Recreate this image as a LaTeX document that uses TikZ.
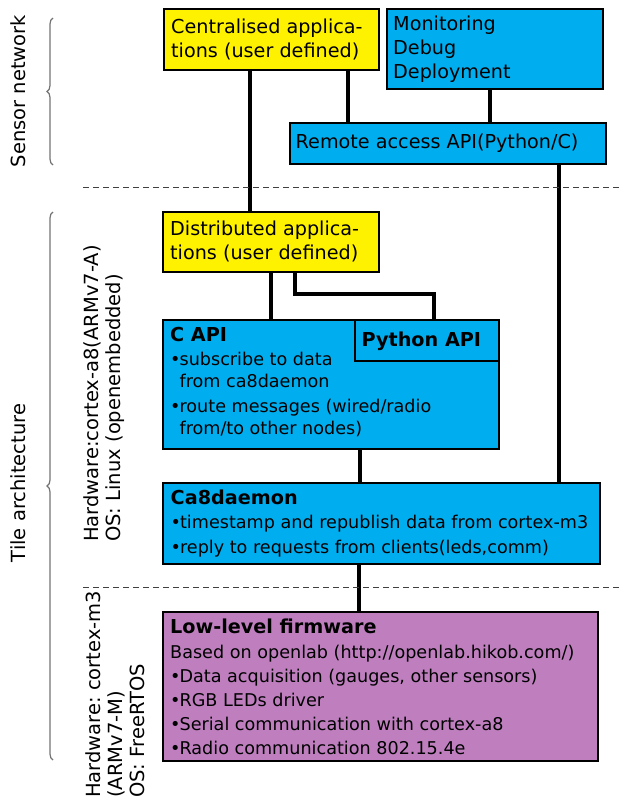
\documentclass[tikz,border=0pt]{standalone}
\usepackage{fontspec}
\setmainfont{DejaVu Sans}
\usetikzlibrary{calc,backgrounds,decorations.pathreplacing}
\definecolor{ylw}{RGB}{255,242,0}
\definecolor{blu}{RGB}{0,174,239}
\definecolor{prp}{RGB}{191,127,191}
\newcommand\mybul{•\kern-1pt}
\frenchspacing
\begin{document}
\frenchspacing
\begin{tikzpicture}[x=1pt,y=-1pt,
  box/.style={draw=black, line width=2.5pt, rectangle, inner sep=0pt, outer sep=0pt, anchor=north west},
  txt/.style={inner sep=0pt, anchor=north west, align=left, font=\fontsize{19.2pt}{24pt}\selectfont},
  body/.style={inner sep=0pt, anchor=north west, align=left},
  conn/.style={line width=4pt, draw=black},
  sepline/.style={line width=1pt, draw=black!75, dash pattern=on 6pt off 4pt},
  brc/.style={draw=black!55, line width=1.2pt, decorate, decoration={brace, amplitude=6pt}},
  lbl/.style={inner sep=0pt, rotate=90, font=\fontsize{19.5pt}{22pt}\selectfont}]

\useasboundingbox (0,0) rectangle (621,800);

% boxes
\node[box, fill=ylw, minimum width=215pt, minimum height=61pt] (cent) at (164,9) {};
\node[box, fill=blu, minimum width=216pt, minimum height=80pt] (mon) at (387,9) {};
\node[box, fill=blu, minimum width=316pt, minimum height=41pt] (remote) at (290,123) {};
\node[box, fill=ylw, minimum width=216pt, minimum height=60pt] (dist) at (163,212) {};
\node[box, fill=blu, minimum width=336pt, minimum height=129pt] (capi) at (163,320) {};
\node[box, fill=blu, minimum width=144pt, minimum height=41pt] (pyapi) at (355,320) {};
\node[box, fill=blu, minimum width=437pt, minimum height=81pt] (daemon) at (163,483) {};
\node[box, fill=prp, minimum width=435pt, minimum height=149pt] (fw) at (163,612) {};

% texts
\node[txt] (cent-t) at ($(cent.north west)+(7,9.4)$) {Centralised applica-\\tions (user defined)};
\node[txt] (mon-t) at ($(mon.north west)+(6,6.4)$) {Monitoring\\Debug\\Deployment};
\node[txt] (remote-t) at ($(remote.north west)+(5.5,10.4)$) {Remote access API(Python/C)};
\node[txt] (dist-t) at ($(dist.north west)+(7,8.4)$) {Distributed applica-\\tions (user defined)};
\node[body, font=\fontsize{17.6pt}{22pt}\selectfont] (capi-t) at ($(capi.north west)+(7,7)$)
  {{\fontsize{19.2pt}{22pt}\bfseries C API}\\[2pt]
   \mybul subscribe to data\\
   \hphantom{\mybul}from ca8daemon\\[3pt]
   \mybul route messages (wired/radio\\
   \hphantom{\mybul}from/to other nodes)};
\node[txt] (pyapi-t) at ($(pyapi.north west)+(6.5,11.4)$) {\bfseries Python API};
\node[body, font=\fontsize{17.6pt}{24.5pt}\selectfont] (daemon-t) at ($(daemon.north west)+(7.5,6.4)$)
  {{\fontsize{19.2pt}{24.5pt}\bfseries Ca8daemon}\\
   \mybul timestamp and republish data from cortex-m3\\
   \mybul reply to requests from clients(leds,comm)};
\node[body, font=\fontsize{17.6pt}{24pt}\selectfont] (fw-t) at ($(fw.north west)+(7,6.4)$)
  {{\fontsize{19.2pt}{24pt}\bfseries Low-level firmware}\\[1.5pt]
   Based on openlab (http://openlab.hikob.com/)\\
   \mybul Data acquisition (gauges, other sensors)\\
   \mybul RGB LEDs driver\\
   \mybul Serial communication with cortex-a8\\
   \mybul Radio communication 802.15.4e};

% connectors
\begin{scope}[on background layer]
  \coordinate (a1) at ($(cent.south west)+(86,0)$);
  \draw[conn] (a1) -- (a1 |- dist.north);
  \coordinate (a2) at ($(cent.south west)+(184,0)$);
  \draw[conn] (a2) -- (a2 |- remote.north);
  \coordinate (a3) at ($(mon.south west)+(103,0)$);
  \draw[conn] (a3) -- (a3 |- remote.north);
  \coordinate (a4) at ($(remote.south west)+(269,0)$);
  \draw[conn] (a4) -- (a4 |- daemon.north);
  \coordinate (a5) at ($(dist.south west)+(108,0)$);
  \draw[conn] (a5) -- (a5 |- capi.north);
  \coordinate (a6) at ($(dist.south west)+(132,0)$);
  \coordinate (a7) at ($(pyapi.north west)+(79,0)$);
  \draw[conn] (a6) |- ($(a7)+(0,-26)$) -- (a7);
  \coordinate (a8) at ($(capi.south west)+(197,0)$);
  \draw[conn] (a8) -- (a8 |- daemon.north);
  \coordinate (a9) at ($(daemon.south west)+(196,0)$);
  \draw[conn] (a9) -- (a9 |- fw.north);
\end{scope}

% separators
\coordinate (s1a) at (83,187);
\coordinate (s1b) at (621,187);
\draw[sepline] (s1a) -- (s1b);
\coordinate (s2a) at (83,587);
\coordinate (s2b) at (621,587);
\draw[sepline] (s2a) -- (s2b);

% braces
\coordinate (b1a) at (53,165);
\coordinate (b1b) at (53,18);
\draw[brc] (b1a) -- (b1b);
\coordinate (b2a) at (53,760);
\coordinate (b2b) at (53,212);
\draw[brc] (b2a) -- (b2b);

% side labels
\node[lbl, anchor=base] (sn) at (25,91) {Sensor network};
\node[lbl, anchor=base] (ta) at (25,483) {Tile architecture};
\node[lbl, anchor=north west, align=left] (hw1) at (83,542) {Hardware:cortex-a8(ARMv7-A)\\OS: Linux (openembedded)};
\node[lbl, anchor=north west, align=left] (hw2) at (85,798) {Hardware: cortex-m3\\(ARMv7-M)\\OS: FreeRTOS};
\end{tikzpicture}
\end{document}
